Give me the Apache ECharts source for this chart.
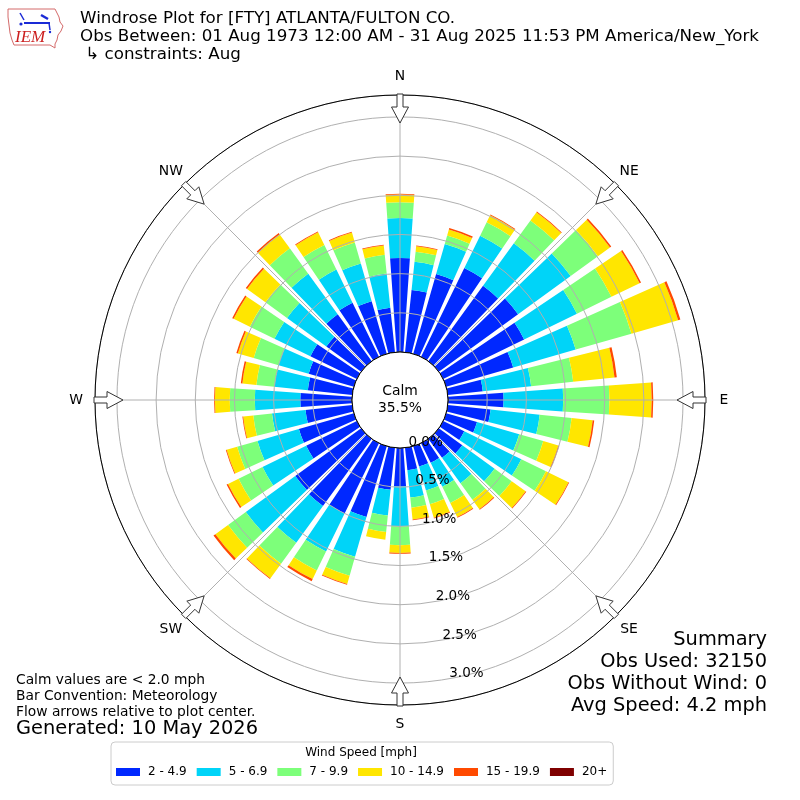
<!DOCTYPE html>
<html>
<head>
<meta charset="utf-8">
<script src="https://cdn.jsdelivr.net/npm/echarts@6/dist/echarts.min.js"></script>
<style>html,body{margin:0;padding:0;background:#fff;}#chart{width:800px;height:800px;}</style>
</head>
<body>
<div id="chart"></div>
<script>
// ---- data (percent of observations) ----
const directions = ['0','10','20','30','40','50','60','70','80','90','100','110','120','130','140','150','160','170',
  '180','190','200','210','220','230','240','250','260','270','280','290','300','310','320','330','340','350'];
const speed2to5 = [1.20,0.80,1.06,1.26,1.19,1.25,1.15,0.89,0.45,0.71,0.55,0.41,0.30,0.37,0.30,0.28,0.27,0.29,
  0.49,0.54,0.94,1.00,1.06,1.04,0.72,0.73,0.60,0.66,0.57,0.60,0.66,0.55,0.74,0.77,0.70,0.57];
const speed5to7 = [0.51,0.36,0.40,0.46,0.67,0.83,0.75,0.83,0.62,0.76,0.63,0.56,0.81,0.51,0.40,0.34,0.32,0.35,
  0.51,0.33,0.53,0.54,0.58,0.78,0.62,0.55,0.43,0.58,0.43,0.40,0.51,0.62,0.64,0.47,0.50,0.44];
const speed7to10 = [0.20,0.13,0.11,0.19,0.36,0.43,0.49,0.74,0.54,0.59,0.41,0.32,0.35,0.27,0.26,0.23,0.18,0.13,
  0.24,0.21,0.25,0.27,0.33,0.28,0.34,0.27,0.24,0.32,0.23,0.33,0.35,0.34,0.40,0.35,0.28,0.24];
const speed10to15 = [0.10,0.07,0.08,0.10,0.13,0.19,0.40,0.62,0.53,0.54,0.27,0.20,0.32,0.22,0.15,0.20,0.18,0.15,
  0.10,0.10,0.11,0.12,0.23,0.20,0.15,0.14,0.13,0.19,0.18,0.21,0.23,0.29,0.22,0.18,0.13,0.12];
const speed15to20 = [0.01,0.01,0.02,0.01,0.01,0.02,0.02,0.03,0.03,0.02,0.02,0.01,0.01,0.01,0.01,0.01,0.01,0.01,
  0.01,0.00,0.01,0.03,0.01,0.03,0.02,0.01,0.01,0.01,0.02,0.02,0.02,0.02,0.02,0.01,0.01,0.01];
const speed20plus = [0,0,0,0,0,0,0,0,0,0,0,0,0,0,0,0,0,0,0,0,0,0,0,0,0,0,0,0,0,0,0,0,0,0,0,0];
const speedBins = ['2 - 4.9','5 - 6.9','7 - 9.9','10 - 14.9','15 - 19.9','20+'];
const compassLabels = ['N','NE','E','SE','S','SW','W','NW'];
const calmPct = '35.5%';
const summaryLines = ['Summary','Obs Used: 32150','Obs Without Wind: 0','Avg Speed: 4.2 mph'];
const noteLines = ['Calm values are < 2.0 mph','Bar Convention: Meteorology','Flow arrows relative to plot center.'];
const titleLines = ['Windrose Plot for [FTY] ATLANTA/FULTON CO.',
  'Obs Between: 01 Aug 1973 12:00 AM - 31 Aug 2025 11:53 PM America/New_York',
  ' \u21b3 constraints: Aug'];
const generatedText = 'Generated: 10 May 2026';

// ---- styles ----
const binColors = ['#0028ff','#00d4f8','#7dff7a','#ffe600','#ff4a00','#7f0000'];
const FONT = 'DejaVu Sans';
const CX = 400, CY = 400, R_IN = 48, R_OUT = 305, RMAX = 3.28;
const seriesData = [speed2to5, speed5to7, speed7to10, speed10to15, speed15to20, speed20plus];

const chart = echarts.init(document.getElementById('chart'), null, {renderer:'canvas'});

function txt(x, y, text, size, opts) {
  return Object.assign({type:'text', x:x, y:y, z:40,
    style:Object.assign({text:text, fontSize:size, fontFamily:FONT, fill:'#000', align:'left', verticalAlign:'middle'}, opts||{})});
}

const graphics = [];
// flow arrows and compass labels (decoration)
for (let k = 0; k < 8; k++) {
  const a = k * 45 * Math.PI / 180;
  const s = Math.sin(a), c = Math.cos(a);
  const loc = [[306,-3],[293,-3],[293,-8.5],[277,0],[293,8.5],[293,3],[306,3]];
  const pts = loc.map(([r,w]) => [CX + r*s + w*c, CY - r*c + w*s]);
  graphics.push({type:'polygon', z:30, shape:{points:pts}, style:{fill:'#fff', stroke:'#333', lineWidth:1}});
  graphics.push(txt(CX + 324*s, CY - 324*c, compassLabels[k], 13.9, {align:'center'}));
}
// calm circle
graphics.push({type:'circle', z:25, shape:{cx:CX, cy:CY, r:R_IN}, style:{fill:'#fff', stroke:'#000', lineWidth:1}});
graphics.push(txt(CX, 391, 'Calm', 13.9, {align:'center'}));
graphics.push(txt(CX, 408, calmPct, 13.9, {align:'center'}));
// titles
titleLines.forEach((t,i) => graphics.push(txt(80, 19 + i*18, t, 16.7)));
// summary
summaryLines.forEach((t,i) => graphics.push(txt(767, 640 + i*22, t, 19.4, {align:'right'})));
// notes
noteLines.forEach((t,i) => graphics.push(txt(16, 680 + i*16, t, 13.8)));
graphics.push(txt(16, 729, generatedText, 19.4));
// legend title
graphics.push(txt(361, 753, 'Wind Speed [mph]', 12, {align:'center'}));
// logo (approximate)
graphics.push({type:'polygon', z:20, shape:{points:[[8,9],[55,9],[57,13],[59,17],[60,22],[63,26],[61,31],[58,35],[57,40],[55,44],[55,48],[50,45],[14,45],[12,40],[10,33],[9,25],[8,17]]},
  style:{fill:'#fff', stroke:'#d46a6a', lineWidth:1}});
graphics.push({type:'line', z:21, shape:{x1:24,y1:23,x2:50,y2:23}, style:{stroke:'#1a2ad6', lineWidth:2}});
graphics.push({type:'line', z:21, shape:{x1:20,y1:13,x2:24,y2:20}, style:{stroke:'#1a2ad6', lineWidth:1.5}});
graphics.push({type:'line', z:21, shape:{x1:41,y1:15,x2:48,y2:19}, style:{stroke:'#1a2ad6', lineWidth:2.5}});
graphics.push({type:'line', z:21, shape:{x1:49,y1:23,x2:50,y2:30}, style:{stroke:'#1a2ad6', lineWidth:1.5}});
graphics.push({type:'circle', z:21, shape:{cx:21,cy:24,r:1.6}, style:{fill:'#1a2ad6'}});
graphics.push({type:'circle', z:21, shape:{cx:50,cy:32,r:1.2}, style:{fill:'#1a2ad6'}});
graphics.push({type:'text', x:15, y:38, z:21, style:{text:'IEM', fontSize:17, fontFamily:'Liberation Serif', fontStyle:'italic', fill:'#cc1f1f', align:'left', verticalAlign:'middle'}});

const option = {
  backgroundColor:'#fff',
  animation:false,
  textStyle:{fontFamily:FONT},
  polar:[
    {center:[CX,CY], radius:[R_IN,R_OUT]},
    {center:[CX,CY], radius:[R_IN,R_OUT]},
    {center:[CX,CY], radius:[R_IN-5,R_OUT-5]}
  ],
  angleAxis:[
    {polarIndex:0, type:'category', data:directions, startAngle:95, clockwise:true, boundaryGap:true,
     axisLine:{show:false}, axisTick:{show:false}, axisLabel:{show:false}, splitLine:{show:false}},
    {polarIndex:1, type:'value', min:0, max:360, interval:45, startAngle:90, clockwise:true, z:5,
     axisLine:{show:true, lineStyle:{color:'#000', width:1}}, axisTick:{show:false}, axisLabel:{show:false},
     splitLine:{show:true, lineStyle:{color:'#b0b0b0', width:1}}},
    {polarIndex:2, type:'value', min:0, max:360, startAngle:280, show:false}
  ],
  radiusAxis:[
    {polarIndex:0, type:'value', min:0, max:RMAX, axisLine:{show:false}, axisTick:{show:false}, axisLabel:{show:false}, splitLine:{show:false}},
    {polarIndex:1, type:'value', min:0, max:RMAX, interval:0.5, z:5, axisLine:{show:false}, axisTick:{show:false}, axisLabel:{show:false},
     splitLine:{show:true, lineStyle:{color:'#b0b0b0', width:1}}},
    {polarIndex:2, type:'value', min:0, max:RMAX, interval:0.5, z:26, axisLine:{show:false}, axisTick:{show:false}, splitLine:{show:false},
     axisLabel:{margin:1, fontSize:13.5, color:'#000', fontFamily:FONT,
       formatter:v => Math.abs(v*2 - Math.round(v*2)) < 1e-6 ? v.toFixed(1) + '%' : ''}}
  ],
  legend:{data:speedBins, left:111, top:742, orient:'horizontal', itemWidth:24, itemHeight:8, itemGap:10,
    padding:[24,6,7,5], borderColor:'#cccccc', borderWidth:1, borderRadius:4, icon:'rect', selectedMode:false,
    textStyle:{fontSize:12, fontFamily:FONT, color:'#000', padding:[0,0,0,3]}},
  series: speedBins.map((name,i) => ({
    type:'bar', name:name, coordinateSystem:'polar', polarIndex:0, stack:'wind',
    data:seriesData[i], barCategoryGap:'20%', itemStyle:{color:binColors[i]}, z:2
  })),
  graphic: graphics
};
chart.setOption(option);
</script>
</body>
</html>
